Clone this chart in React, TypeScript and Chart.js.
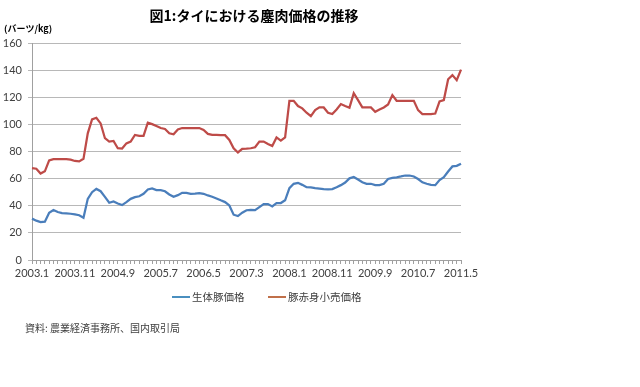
import React, { useEffect, useRef } from "react";
import { Chart, registerables } from "chart.js";

Chart.register(...registerables);

const START_YEAR = 2003;
const START_MONTH = 1;
const MONTH_COUNT = 101;
const LABEL_EVERY = 10;

const categories: string[] = [];
for (let i = 0; i < MONTH_COUNT; i++) {
  const m = START_MONTH - 1 + i;
  categories.push(`${START_YEAR + Math.floor(m / 12)}.${(m % 12) + 1}`);
}

const livePigPrice = [
  30.5, 29, 28, 28.3, 34.9, 36.8, 35.4, 34.6, 34.4, 34.1,
  33.7, 33, 31.2, 45.1, 50, 52.4, 50.7, 46.6, 42.2, 43.2,
  41.7, 40.5, 42.7, 45.1, 46.3, 47, 48.8, 52, 52.7, 51.5,
  51.5, 50.7, 48.3, 46.6, 47.8, 49.5, 49.5, 48.8, 49, 49.3,
  48.8, 47.6, 46.6, 45.4, 44, 42.7, 40.2, 33.4, 32.4, 34.9,
  36.7, 37, 36.8, 39, 41.2, 41.2, 39.5, 42, 42, 44,
  53, 56.2, 56.9, 55.4, 53.7, 53.5, 53, 52.7, 52.3, 52,
  52.3, 53.7, 55.2, 57.1, 60.2, 61.2, 59.3, 57.3, 56.2, 56.2,
  55.2, 55.2, 56.2, 59.7, 60.5, 61, 61.6, 62.3, 62.3, 61.6,
  59.7, 57.3, 56.2, 55.4, 55.2, 59, 61, 65.2, 69, 69.4,
  71,
];

const leanPorkRetail = [
  67.8, 67.3, 63.7, 65.4, 73.4, 74.4, 74.4, 74.4, 74.4, 74,
  73, 72.7, 74.6, 93.4, 103.7, 104.9, 100.7, 89.8, 87.3, 87.8,
  82.4, 82.2, 86, 87.3, 92.2, 91.5, 91.5, 101.2, 100.2, 98.8,
  97.3, 96.6, 93.4, 92.7, 96.3, 97.3, 97.3, 97.3, 97.3, 97.3,
  95.9, 93, 92.2, 92.2, 92, 92, 88.5, 82.4, 79.3, 82,
  82.1, 82.4, 83.1, 87.3, 87.3, 85.5, 84, 90.4, 88, 90.4,
  117.4, 117.4, 113.5, 111.8, 108.6, 106.1, 110.5, 112.5, 112.5, 108.6,
  107.6, 111, 115, 113.5, 112.3, 123, 117.9, 112.5, 112.5, 112.5,
  109.3, 111, 112.5, 114.7, 121.6, 117.4, 117.4, 117.4, 117.4, 117.4,
  110.5, 107.6, 107.6, 107.6, 108, 117, 117.9, 133.3, 136.3, 132.6,
  140.4,
];

const seriesNames = ["生体豚価格", "豚赤身小売価格"];
const seriesColors = ["#4A7EBB", "#BE4B48"];
const legendColors = ["#4A8FBF", "#C0704A"];

const titleText = "図1:タイにおける鏖肉価格の推移";
const unitText = "(バーツ/kg)";
const sourceText = "資料: 農業経済事務所、国内取引局";

const Y_MIN = 0;
const Y_MAX = 160;
const Y_STEP = 20;

const JP = '"Noto Sans CJK JP", "Noto Sans", sans-serif';
const NUM = 'Lato, "Open Sans", sans-serif';

const decorPlugin = {
  id: "decor",
  afterDraw(chart: any) {
    const ctx = chart.ctx as CanvasRenderingContext2D;
    ctx.save();
    // Title
    ctx.fillStyle = "#000000";
    ctx.font = `bold 14px ${JP}`;
    ctx.textAlign = "center";
    ctx.textBaseline = "middle";
    ctx.fillText(titleText, 254, 16);
    // Unit
    ctx.font = `bold 9px ${JP}`;
    ctx.textAlign = "left";
    ctx.fillText(unitText, 4, 29);
    // Legend
    ctx.font = `10.5px ${JP}`;
    ctx.fillStyle = "#404040";
    const legendItems = [
      { x: 172, color: legendColors[0], text: seriesNames[0] },
      { x: 268, color: legendColors[1], text: seriesNames[1] },
    ];
    for (const it of legendItems) {
      ctx.strokeStyle = it.color;
      ctx.lineWidth = 2;
      ctx.beginPath();
      ctx.moveTo(it.x, 297);
      ctx.lineTo(it.x + 18, 297);
      ctx.stroke();
      ctx.fillText(it.text, it.x + 20, 297);
    }
    // Source
    ctx.font = `10px ${JP}`;
    ctx.fillStyle = "#404040";
    ctx.fillText(sourceText, 25, 328);
    ctx.restore();
  },
};

export default function App() {
  const canvasRef = useRef<HTMLCanvasElement | null>(null);

  useEffect(() => {
    if (!canvasRef.current) return;
    const chart = new Chart(canvasRef.current, {
      type: "line",
      data: {
        labels: categories,
        datasets: [
          {
            label: seriesNames[0],
            data: livePigPrice,
            borderColor: seriesColors[0],
            backgroundColor: seriesColors[0],
            borderWidth: 2.25,
            pointRadius: 0,
            tension: 0,
          },
          {
            label: seriesNames[1],
            data: leanPorkRetail,
            borderColor: seriesColors[1],
            backgroundColor: seriesColors[1],
            borderWidth: 2.25,
            pointRadius: 0,
            tension: 0,
          },
        ],
      },
      options: {
        responsive: false,
        animation: false,
        layout: { padding: { left: 0, right: 179, top: 43, bottom: 97 } },
        plugins: {
          legend: { display: false },
          title: { display: false },
          tooltip: { enabled: false },
        },
        scales: {
          x: {
            offset: false,
            afterFit(scale: any) {
              scale.height = 30;
            },
            grid: {
              drawOnChartArea: false,
              drawTicks: true,
              tickLength: 4,
              color: "#A0A0A0",
            },
            border: { color: "#A0A0A0" },
            ticks: {
              autoSkip: false,
              maxRotation: 0,
              minRotation: 0,
              padding: 3,
              color: "#404040",
              font: { family: NUM, size: 11 },
              callback: (_v: any, i: number) => (i % LABEL_EVERY === 0 ? categories[i] : ""),
            },
          },
          y: {
            min: Y_MIN,
            max: Y_MAX,
            afterFit(scale: any) {
              scale.width = 32;
            },
            grid: {
              color: "#B8B8B8",
              tickLength: 4,
            },
            border: { color: "#A0A0A0" },
            ticks: {
              stepSize: Y_STEP,
              padding: 6,
              color: "#404040",
              font: { family: NUM, size: 11 },
            },
          },
        },
      },
      plugins: [decorPlugin],
    });
    return () => chart.destroy();
  }, []);

  return (
    <div style={{ position: "fixed", left: 0, top: 0, width: 640, height: 387, background: "#fff" }}>
      <canvas ref={canvasRef} width={640} height={387} style={{ display: "block" }} />
    </div>
  );
}
